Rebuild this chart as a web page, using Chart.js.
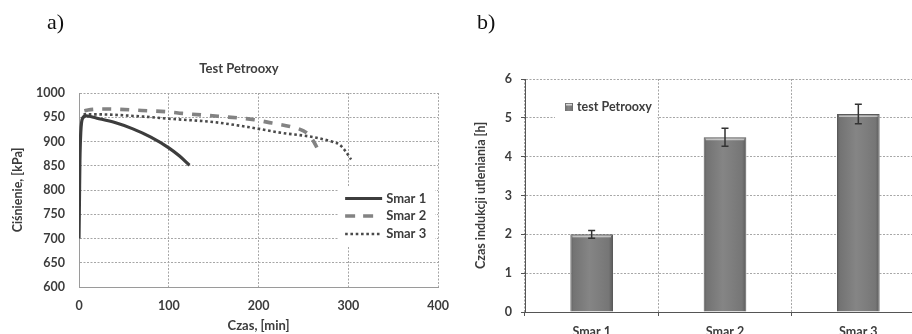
<!DOCTYPE html>
<html>
<head>
<meta charset="utf-8">
<script src="https://cdn.jsdelivr.net/npm/chart.js@4.4.1/dist/chart.umd.min.js"></script>
<style>
html,body{margin:0;padding:0;background:#fff;overflow:hidden;width:912px;height:334px;}
#wrap{position:relative;width:912px;height:334px;overflow:hidden;background:#fff;}
.lbl{position:absolute;font-family:"Liberation Serif","DejaVu Serif",serif;font-size:22px;line-height:22px;color:#111;}
#ca{position:absolute;left:0;top:0;}
#cb{position:absolute;left:460px;top:0;}
#titleA{position:absolute;left:239px;top:60px;transform:translateX(-50%);font-family:Lato,"Open Sans",sans-serif;font-weight:bold;font-size:13px;line-height:16px;color:#404040;white-space:nowrap;}
</style>
</head>
<body>
<div id="wrap">
  <canvas id="ca" width="460" height="334"></canvas>
  <canvas id="cb" width="480" height="350"></canvas>
  <div class="lbl" style="left:47px;top:11px;">a)</div>
  <div class="lbl" style="left:477px;top:11px;">b)</div>
  <div id="titleA">Test Petrooxy</div>
</div>
<script>
// ---- Data: chart a) Test Petrooxy (pressure vs time) ----
const smar1X = [0, 0.5, 1, 2, 4, 8, 20, 40, 60, 80, 100, 112, 123];
const smar1Y = [700, 780, 860, 920, 948, 953, 948, 939, 926, 909, 887, 870, 851];
const smar2X = [6, 10, 30, 70, 100, 115, 155, 195, 215, 235, 250, 256, 262, 268];
const smar2Y = [963, 965, 967, 964, 961, 958, 952, 945, 938, 931, 922, 914, 898, 876];
const smar3X = [5, 20, 67, 100, 150, 188, 225, 261, 283, 290, 296, 303];
const smar3Y = [956, 956, 952, 947, 940, 930, 918, 909, 899, 894, 882, 863];
const seriesNames = ['Smar 1', 'Smar 2', 'Smar 3'];

// ---- Data: chart b) induction time ----
const barLabels = ['Smar 1', 'Smar 2', 'Smar 3'];
const barValues = [2.0, 4.5, 5.1];
const barErrors = [0.1, 0.23, 0.25];
const barLegend = 'test Petrooxy';

const FONT = 'Lato, "Open Sans", sans-serif';
const TXT = '#3c3c3c';
const pts = (xs, ys) => xs.map((x, i) => ({x: x, y: ys[i]}));

const lineStyles = [
  {color: '#3d3d3d', width: 3.2, dash: []},
  {color: '#838383', width: 3.6, dash: [9, 9]},
  {color: '#4a4a4a', width: 2.6, dash: [2.6, 2.7]}
];

const legendA = {
  id: 'legendA',
  afterDatasetsDraw(chart) {
    const c = chart.ctx, a = chart.chartArea;
    c.save();
    c.fillStyle = '#fff';
    c.fillRect(a.right - 100, a.top + 94, 97, 59);
    const ys = [a.top + 105.5, a.top + 123, a.top + 141];
    seriesNames.forEach((n, i) => {
      const s = lineStyles[i];
      c.beginPath();
      c.strokeStyle = s.color;
      c.lineWidth = s.width;
      c.setLineDash(i === 1 ? [10, 8] : s.dash);
      c.moveTo(a.right - 93, ys[i]);
      c.lineTo(a.right - (i === 1 ? 63 : 56), ys[i]);
      c.stroke();
      c.setLineDash([]);
      c.fillStyle = TXT;
      c.font = 'bold 13px ' + FONT;
      c.textBaseline = 'middle';
      c.textAlign = 'left';
      c.fillText(n, a.right - 52, ys[i]);
    });
    c.restore();
  }
};

const tickFont = {family: FONT, weight: 'bold', size: 12.5};

new Chart(document.getElementById('ca'), {
  type: 'line',
  data: {
    datasets: [
      {label: seriesNames[0], data: pts(smar1X, smar1Y)},
      {label: seriesNames[1], data: pts(smar2X, smar2Y)},
      {label: seriesNames[2], data: pts(smar3X, smar3Y)}
    ].map((d, i) => Object.assign(d, {
      borderColor: lineStyles[i].color,
      borderWidth: lineStyles[i].width,
      borderDash: lineStyles[i].dash,
      pointRadius: 0,
      fill: false,
      cubicInterpolationMode: 'monotone'
    }))
  },
  options: {
    responsive: false,
    animation: false,
    layout: {padding: {top: 93, left: 0, right: 17, bottom: 0}},
    plugins: {legend: {display: false}, tooltip: {enabled: false}, title: {display: false}},
    scales: {
      x: {
        type: 'linear', min: 0, max: 400,
        ticks: {stepSize: 100, padding: 11, color: TXT, font: tickFont, callback: (v) => String(v)},
        grid: {color: '#a6a6a6', drawTicks: false, lineWidth: 1},
        border: {color: '#9a9a9a', width: 1, dash: [2, 1.5]},
        title: {display: true, text: 'Czas, [min]', color: TXT, font: {family: FONT, weight: 'bold', size: 13}, padding: {top: 0, bottom: 0}},
        afterFit: (s) => { s.height = 47; }
      },
      y: {
        min: 600, max: 1000,
        ticks: {stepSize: 50, padding: 14, color: TXT, font: tickFont, callback: (v) => String(v)},
        grid: {color: '#a6a6a6', drawTicks: false, lineWidth: 1},
        border: {color: '#9a9a9a', width: 1, dash: [2, 1.5]},
        title: {display: true, text: 'Ciśnienie, [kPa]', color: TXT, font: {family: FONT, weight: 'bold', size: 12.5}, padding: {top: 10, bottom: 0}},
        afterFit: (s) => { s.width = 79; }
      }
    }
  },
  plugins: [legendA]
});

// ---- chart b ----
const CAT_PCT = 0.8, BAR_PCT = 0.4;
function barGradient(g) {
  g.addColorStop(0, '#5e5e5e');
  g.addColorStop(0.07, '#737373');
  g.addColorStop(0.45, '#858585');
  g.addColorStop(0.9, '#767676');
  g.addColorStop(1, '#5a5a5a');
  return g;
}

const barDecor = {
  id: 'barDecor',
  afterDatasetsDraw(chart) {
    const c = chart.ctx, a = chart.chartArea, ys = chart.scales.y;
    const meta = chart.getDatasetMeta(0);
    c.save();
    meta.data.forEach((bar, i) => {
      // top highlight
      c.fillStyle = 'rgba(255,255,255,0.55)';
      c.fillRect(bar.x - bar.width / 2 + 2, bar.y + 1.5, bar.width - 4, 1.5);
      // error bar
      const yt = ys.getPixelForValue(barValues[i] + barErrors[i]);
      const yb = ys.getPixelForValue(barValues[i] - barErrors[i]);
      c.strokeStyle = '#333';
      c.lineWidth = 1.5;
      c.beginPath();
      c.moveTo(bar.x, yt); c.lineTo(bar.x, yb);
      c.moveTo(bar.x - 3.5, yt); c.lineTo(bar.x + 3.5, yt);
      c.moveTo(bar.x - 3.5, yb); c.lineTo(bar.x + 3.5, yb);
      c.stroke();
    });
    // legend
    c.fillStyle = '#fff';
    c.fillRect(a.left + 30, a.top + 16, 102, 26);
    const mx = a.left + 40, my = a.top + 24;
    const g = barGradient(c.createLinearGradient(mx, 0, mx + 8, 0));
    c.fillStyle = g;
    c.fillRect(mx, my, 8, 8);
    c.fillStyle = 'rgba(255,255,255,0.7)';
    c.fillRect(mx + 1, my + 1, 6, 1.5);
    c.fillStyle = TXT;
    c.font = 'bold 12.5px ' + FONT;
    c.textBaseline = 'middle';
    c.textAlign = 'left';
    c.fillText(barLegend, a.left + 52, a.top + 28);
    c.restore();
  }
};

new Chart(document.getElementById('cb'), {
  type: 'bar',
  data: {
    labels: barLabels,
    datasets: [{
      label: barLegend,
      data: barValues,
      categoryPercentage: CAT_PCT,
      barPercentage: BAR_PCT,
      borderColor: '#5a5a5a',
      borderWidth: 1,
      backgroundColor: (ctx) => {
        const chart = ctx.chart, area = chart.chartArea;
        if (!area || ctx.type !== 'data') return '#7d7d7d';
        const cx = chart.scales.x.getPixelForValue(ctx.dataIndex);
        const w = (area.right - area.left) / barLabels.length * CAT_PCT * BAR_PCT;
        return barGradient(chart.ctx.createLinearGradient(cx - w / 2, 0, cx + w / 2, 0));
      }
    }]
  },
  options: {
    responsive: false,
    animation: false,
    layout: {padding: {top: 79, left: 0, right: 15, bottom: 0}},
    plugins: {legend: {display: false}, tooltip: {enabled: false}},
    scales: {
      x: {
        ticks: {padding: 8, color: TXT, font: tickFont},
        grid: {color: '#a6a6a6', lineWidth: 1, tickLength: 4, tickColor: '#555', offset: true},
        border: {color: '#555', width: 1, dash: [2, 1.5]},
        afterFit: (s) => { s.height = 38; }
      },
      y: {
        min: 0, max: 6,
        ticks: {stepSize: 1, padding: 9, color: TXT, font: tickFont},
        grid: {color: '#a6a6a6', lineWidth: 1, tickLength: 4, tickColor: '#555'},
        border: {color: '#555', width: 1, dash: [2, 1.5]},
        title: {display: true, text: 'Czas indukcji utleniania [h]', color: TXT, font: {family: FONT, weight: 'bold', size: 12.5}, padding: {top: 13, bottom: 0}},
        afterFit: (s) => { s.width = 65; }
      }
    }
  },
  plugins: [barDecor]
});
</script>
</body>
</html>
